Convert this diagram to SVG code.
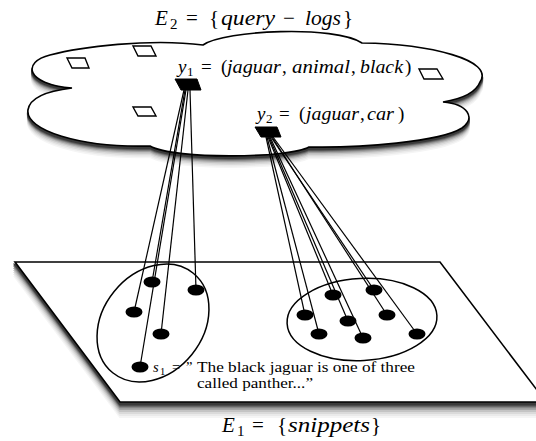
<svg xmlns="http://www.w3.org/2000/svg" xmlns:xlink="http://www.w3.org/1999/xlink" width="536" height="441" viewBox="0 0 536 441">
<defs>
<style>
.outline{fill:#fff;stroke:#000;stroke-width:1.6}
.g1{fill:#f5f5f5;stroke:#f5f5f5;stroke-width:2}
.g2{fill:#eaeaea;stroke:#eaeaea;stroke-width:2}
.g3{fill:#dadada;stroke:#dadada;stroke-width:2}
.g4{fill:#c4c4c4;stroke:#c4c4c4;stroke-width:2}
.g5{fill:#a6a6a6;stroke:#a6a6a6;stroke-width:2}
.g6{fill:#858585;stroke:#858585;stroke-width:2}
.g7{fill:#5e5e5e;stroke:#5e5e5e;stroke-width:2}
.g8{fill:#3a3a3a;stroke:#3a3a3a;stroke-width:2}
.sq{fill:#fff;stroke:#000;stroke-width:1.4}
.node{fill:#000;stroke:#000;stroke-width:1}
.ring{fill:none;stroke:#000;stroke-width:1.5}
.edge{stroke:#000;stroke-width:1.2;fill:none}
.dot{fill:#000}
.i{font-style:italic}
.lab{font-family:'Liberation Serif','Times New Roman',serif;fill:#000}
</style>
<path id="cloudShape" d="M72,88 C25,84 22,62 50,55 C80,47 150,38 203,45 C225,30 335,25 362,43 C430,44 495,60 480,82 C475,95 455,100 443,102 C468,104 476,118 462,128 C440,142 360,148 309,147 C290,158 175,160 150,146 C80,148 25,130 28,110 C30,95 55,90 72,88 Z"/>
<polygon id="planeShape" points="15,262 440,262 546,402 120,402"/>
</defs>
<rect width="536" height="441" fill="#fff"/>

<g id="cloud">
<use xlink:href="#cloudShape" class="g1" transform="translate(0,11)"/>
<use xlink:href="#cloudShape" class="g2" transform="translate(0,9.5)"/>
<use xlink:href="#cloudShape" class="g3" transform="translate(0,8)"/>
<use xlink:href="#cloudShape" class="g4" transform="translate(0,6.5)"/>
<use xlink:href="#cloudShape" class="g5" transform="translate(0,5.2)"/>
<use xlink:href="#cloudShape" class="g6" transform="translate(0,4)"/>
<use xlink:href="#cloudShape" class="g7" transform="translate(0,3)"/>
<use xlink:href="#cloudShape" class="g8" transform="translate(0,2)"/>
<use xlink:href="#cloudShape" class="outline"/>
<polygon class="sq" points="67,58 85,58 89,68 72,68"/>
<polygon class="sq" points="133,46 151,46 156,56 138,56"/>
<polygon class="sq" points="133,107 151,107 156,116 138,116"/>
<polygon class="sq" points="419,69 437,69 443,79 424,79"/>
</g>

<g id="plane">
<use xlink:href="#planeShape" class="g1" transform="translate(0,15)"/>
<use xlink:href="#planeShape" class="g2" transform="translate(0,13)"/>
<use xlink:href="#planeShape" class="g3" transform="translate(0,11)"/>
<use xlink:href="#planeShape" class="g4" transform="translate(0,9)"/>
<use xlink:href="#planeShape" class="g5" transform="translate(0,7)"/>
<use xlink:href="#planeShape" class="g6" transform="translate(0,5.3)"/>
<use xlink:href="#planeShape" class="g7" transform="translate(0,3.8)"/>
<use xlink:href="#planeShape" class="g8" transform="translate(0,2.5)"/>
<use xlink:href="#planeShape" class="outline"/>
</g>

<g id="cluster1"><ellipse class="ring" cx="153" cy="323" rx="50" ry="64" transform="rotate(39 153 323)"/></g>
<g id="cluster2"><ellipse class="ring" cx="362" cy="319.5" rx="75" ry="41" transform="rotate(-3 362 319.5)"/></g>

<g id="y1"><polygon class="node" points="175,79 197,79 201,90 181,90"/></g>
<g id="y2"><polygon class="node" points="255,127 277,127 281,137 261,137"/></g>

<g id="connectors">
<line class="edge" x1="184" y1="90" x2="134" y2="312"/>
<line class="edge" x1="185" y1="90" x2="152" y2="282"/>
<line class="edge" x1="186" y1="90" x2="140" y2="367"/>
<line class="edge" x1="188" y1="90" x2="161" y2="334"/>
<line class="edge" x1="190" y1="90" x2="196" y2="290"/>
<line class="edge" x1="266" y1="137" x2="305" y2="315"/>
<line class="edge" x1="267" y1="137" x2="319" y2="334"/>
<line class="edge" x1="268" y1="137" x2="333" y2="295"/>
<line class="edge" x1="269" y1="137" x2="348" y2="321"/>
<line class="edge" x1="270" y1="137" x2="363" y2="338"/>
<line class="edge" x1="271" y1="137" x2="374" y2="290"/>
<line class="edge" x1="272" y1="137" x2="387" y2="315"/>
<line class="edge" x1="273" y1="137" x2="417" y2="334"/>
</g>

<g id="snippets">
<ellipse class="dot" cx="152" cy="282" rx="8.5" ry="5.5"/>
<ellipse class="dot" cx="196" cy="290" rx="8.5" ry="5.5"/>
<ellipse class="dot" cx="134" cy="312" rx="8.5" ry="5.5"/>
<ellipse class="dot" cx="161" cy="334" rx="8.5" ry="5.5"/>
<ellipse class="dot" cx="140" cy="367" rx="8.5" ry="5.5"/>
<ellipse class="dot" cx="305" cy="315" rx="8.5" ry="5.5"/>
<ellipse class="dot" cx="333" cy="295" rx="8.5" ry="5.5"/>
<ellipse class="dot" cx="374" cy="290" rx="8.5" ry="5.5"/>
<ellipse class="dot" cx="348" cy="321" rx="8.5" ry="5.5"/>
<ellipse class="dot" cx="387" cy="315" rx="8.5" ry="5.5"/>
<ellipse class="dot" cx="319" cy="334" rx="8.5" ry="5.5"/>
<ellipse class="dot" cx="363" cy="338" rx="8.5" ry="5.5"/>
<ellipse class="dot" cx="417" cy="334" rx="8.5" ry="5.5"/>
</g>

<g id="labels">
<text class="lab" y="25" font-size="21"><tspan class="i" x="155">E</tspan><tspan x="170" dy="4" font-size="15">2</tspan><tspan x="186" dy="-4">=</tspan><tspan x="209">{</tspan><tspan class="i" x="221" textLength="54" lengthAdjust="spacingAndGlyphs">query</tspan><tspan x="283">−</tspan><tspan class="i" x="305" textLength="36" lengthAdjust="spacingAndGlyphs">logs</tspan><tspan x="343">}</tspan></text>

<text class="lab" y="73" font-size="19"><tspan class="i" x="178">y</tspan><tspan x="187" dy="3" font-size="13">1</tspan><tspan x="201" dy="-3">=</tspan><tspan x="221">(</tspan><tspan class="i" x="227" textLength="54" lengthAdjust="spacingAndGlyphs">jaguar</tspan><tspan x="282">,</tspan><tspan class="i" x="292" textLength="58" lengthAdjust="spacingAndGlyphs">animal</tspan><tspan x="351">,</tspan><tspan class="i" x="360" textLength="43" lengthAdjust="spacingAndGlyphs">black</tspan><tspan x="405">)</tspan></text>

<text class="lab" y="120" font-size="19"><tspan class="i" x="257">y</tspan><tspan x="266" dy="3" font-size="13">2</tspan><tspan x="279" dy="-3">=</tspan><tspan x="299">(</tspan><tspan class="i" x="306" textLength="53" lengthAdjust="spacingAndGlyphs">jaguar</tspan><tspan x="360">,</tspan><tspan class="i" x="367" textLength="27" lengthAdjust="spacingAndGlyphs">car</tspan><tspan x="398">)</tspan></text>

<text class="lab" y="372" font-size="14.5"><tspan class="i" x="153">s</tspan><tspan x="160" dy="3" font-size="10.5">1</tspan><tspan x="172" dy="-3">=</tspan><tspan x="186">”</tspan><tspan x="197" textLength="218" lengthAdjust="spacingAndGlyphs">The black jaguar is one of three</tspan></text>
<text class="lab" x="197" y="388" font-size="14.5" textLength="116" lengthAdjust="spacingAndGlyphs">called panther...”</text>

<text class="lab" y="432" font-size="21"><tspan class="i" x="222">E</tspan><tspan x="237" dy="4" font-size="15">1</tspan><tspan x="252" dy="-4">=</tspan><tspan x="277">{</tspan><tspan class="i" x="288" textLength="82" lengthAdjust="spacingAndGlyphs">snippets</tspan><tspan x="371">}</tspan></text>
</g>
</svg>
